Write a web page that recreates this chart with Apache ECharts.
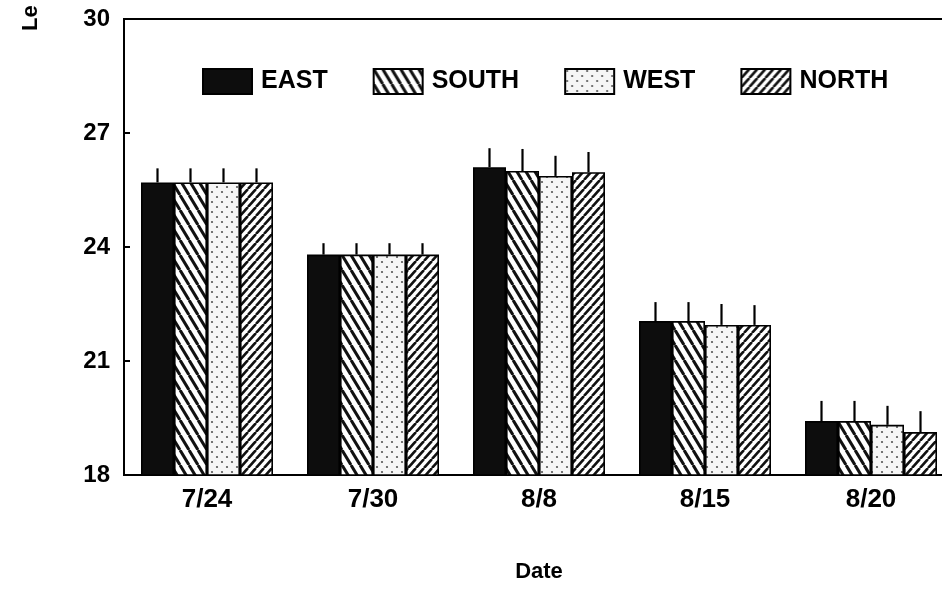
<!DOCTYPE html>
<html>
<head>
<meta charset="utf-8">
<script src="https://cdn.jsdelivr.net/npm/echarts@6/dist/echarts.min.js"></script>
<style>
html,body{margin:0;padding:0;background:#fff;}
#chart{width:942px;height:590px;}
</style>
</head>
<body>
<div id="chart"></div>
<script>
// ---- data ----
const categories = ['7/24', '7/30', '8/8', '8/15', '8/20'];
const seriesNames = ['EAST', 'SOUTH', 'WEST', 'NORTH'];
const eastValues  = [25.7, 23.8, 26.1, 22.05, 19.42];
const southValues = [25.7, 23.8, 26.0, 22.05, 19.42];
const westValues  = [25.7, 23.8, 25.87, 21.95, 19.32];
const northValues = [25.7, 23.8, 25.97, 21.95, 19.13];
const eastErr  = [0.37, 0.3, 0.5, 0.5, 0.53];
const southErr = [0.37, 0.3, 0.58, 0.5, 0.53];
const westErr  = [0.37, 0.3, 0.53, 0.55, 0.5];
const northErr = [0.37, 0.3, 0.53, 0.52, 0.55];
const yTicks = [18, 21, 24, 27, 30];

// ---- patterns ----
function makeStripe(w, h, dir, bg, fg, lw) {
  const c = document.createElement('canvas');
  c.width = w; c.height = h;
  const g = c.getContext('2d');
  g.fillStyle = bg; g.fillRect(0, 0, w, h);
  g.strokeStyle = fg; g.lineWidth = lw;
  for (let k = -1; k <= 1; k++) {
    g.beginPath();
    if (dir === 'back') { g.moveTo(k * w, 0); g.lineTo(k * w + w, h); }
    else { g.moveTo(k * w, h); g.lineTo(k * w + w, 0); }
    g.stroke();
  }
  return c;
}
function makeDots(w, h, bg, fg) {
  const c = document.createElement('canvas');
  c.width = w; c.height = h;
  const g = c.getContext('2d');
  g.fillStyle = bg; g.fillRect(0, 0, w, h);
  g.fillStyle = fg;
  g.beginPath(); g.arc(2, 2, 1.1, 0, Math.PI * 2); g.fill();
  g.beginPath(); g.arc(2 + w / 2, 2 + h / 2, 1.1, 0, Math.PI * 2); g.fill();
  return c;
}
const fills = [
  '#0d0d0d',
  { image: makeStripe(9, 15, 'back', '#ffffff', '#111111', 3), repeat: 'repeat' },
  { image: makeDots(10, 10, '#f6f6f6', '#555555'), repeat: 'repeat' },
  { image: makeStripe(8, 9, 'fwd', '#ffffff', '#111111', 2.6), repeat: 'repeat' }
];

const valueSets = [eastValues, southValues, westValues, northValues];
const errSets = [eastErr, southErr, westErr, northErr];

const fontFam = '"Liberation Sans", Arial, sans-serif';
const series = [];
seriesNames.forEach((name, i) => {
  series.push({
    name: name,
    type: 'bar',
    barWidth: 33,
    barGap: '0%',
    data: valueSets[i],
    itemStyle: { color: fills[i], borderColor: '#000', borderWidth: 1.6 },
    emphasis: { disabled: true }
  });
});
seriesNames.forEach((name, i) => {
  series.push({
    type: 'custom',
    z: 5,
    silent: true,
    data: categories.map((c, j) => [j, valueSets[i][j], errSets[i][j]]),
    encode: { x: 0, y: 1 },
    renderItem: function (params, api) {
      const base = api.coord([api.value(0), api.value(1)]);
      const top = api.coord([api.value(0), api.value(1) + api.value(2)]);
      const x = base[0] + (i - 1.5) * 33;
      return {
        type: 'line',
        shape: { x1: x, y1: base[1], x2: x, y2: top[1] },
        style: { stroke: '#000', lineWidth: 2.2 }
      };
    }
  });
});

const chart = echarts.init(document.getElementById('chart'), null, { renderer: 'canvas' });
chart.setOption({
  animation: false,
  backgroundColor: '#ffffff',
  grid: { left: 124, top: 19, width: 830, height: 456, outerBoundsMode: 'none', containLabel: false,
          show: true, borderColor: '#000', borderWidth: 2, backgroundColor: 'transparent' },
  legend: {
    data: seriesNames,
    left: 197, top: 63,
    itemWidth: 49, itemHeight: 25, itemGap: 45,
    icon: 'rect',
    textStyle: { fontFamily: fontFam, fontWeight: 'bold', fontSize: 25, color: '#000', padding: [0, 0, 0, 4] }
  },
  xAxis: {
    type: 'category',
    data: categories,
    name: 'Date',
    nameLocation: 'middle',
    nameGap: 86,
    nameTextStyle: { fontFamily: fontFam, fontWeight: 'bold', fontSize: 22, color: '#000' },
    axisLine: { lineStyle: { color: '#000', width: 2 } },
    axisTick: { show: false },
    axisLabel: { fontFamily: fontFam, fontWeight: 'bold', fontSize: 26, color: '#000', margin: 12 }
  },
  yAxis: {
    type: 'value',
    min: yTicks[0], max: yTicks[yTicks.length - 1], interval: 3,
    axisLine: { show: true, lineStyle: { color: '#000', width: 2 } },
    axisTick: { show: true, inside: true, length: 6, lineStyle: { color: '#000', width: 2 } },
    splitLine: { show: false },
    axisLabel: { fontFamily: fontFam, fontWeight: 'bold', fontSize: 24, color: '#000', margin: 14 }
  },
  graphic: [{
    type: 'text',
    x: 42, y: 31,
    rotation: Math.PI / 2,
    style: { text: 'Le', fontFamily: fontFam, fontWeight: 'bold', fontSize: 22, fill: '#000', align: 'left', verticalAlign: 'bottom' }
  }],
  series: series
});
</script>
</body>
</html>
